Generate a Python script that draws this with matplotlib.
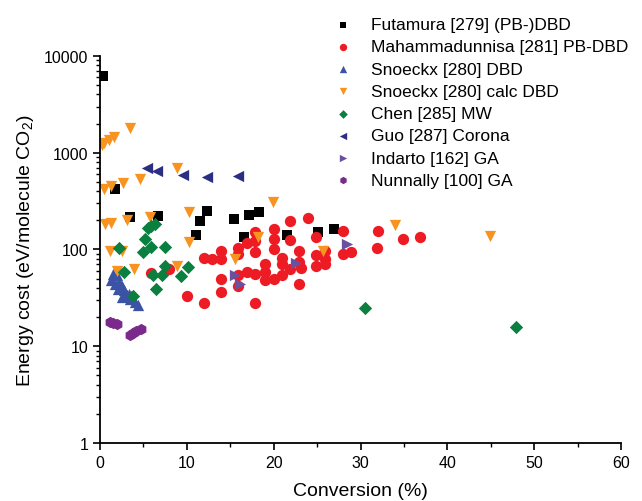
import numpy as np
import matplotlib
matplotlib.use('Agg')
import matplotlib.pyplot as plt
from matplotlib.ticker import LogLocator, NullFormatter, MultipleLocator

plt.rcParams['font.family'] = ['Liberation Sans', 'DejaVu Sans']
plt.rcParams['mathtext.default'] = 'regular'

# conversion (%) and energy cost (eV/molecule CO2)
futamura_x = [0.35, 1.7, 3.4, 6.7, 11.5, 12.3, 11.0, 15.4, 17.1, 18.3, 16.6, 21.5, 25.1, 26.9]
futamura_y = [6200, 420, 217, 222, 198, 251, 142, 207, 228, 245, 135, 142, 152, 163]

mahamm_x = [12.0, 12.9, 13.9, 13.9, 15.9, 15.9, 16.9, 17.9, 17.9, 17.9, 20.0, 20.0, 20.0,
            21.9, 21.9, 23.9, 22.9, 22.9, 22.9, 24.9, 24.9, 24.9, 21.0, 21.0, 21.0, 20.0,
            19.0, 19.0, 19.0, 17.9, 16.9, 15.9, 15.9, 13.9, 13.9, 12.0, 17.9, 21.9,
            5.9, 8.0, 10.0, 28.0, 32.0, 34.9, 36.9, 31.9, 28.0, 28.9, 25.9, 25.9, 25.9, 23.1]
mahamm_y = [81, 79, 97, 79, 103, 90, 117, 151, 121, 94, 163, 127, 101,
            199, 124, 211, 97, 74, 44, 134, 88, 68, 81, 71, 54, 50,
            71, 58, 48, 56, 58, 55, 42, 49, 36, 28, 28, 63,
            57, 63, 33, 157, 157, 127, 136, 104, 90, 94, 80, 96, 70, 64]

snoeckx_x = [1.5, 1.9, 1.3, 1.7, 2.2, 2.5, 2.1, 2.8, 3.1, 2.5, 3.4, 4.0, 4.4, 3.3, 3.6]
snoeckx_y = [56, 54, 48, 44, 46, 42, 39, 38, 34, 32, 31, 28.5, 27, 35, 33]

calc_x = [0.2, 0.5, 1.0, 1.6, 3.4, 0.5, 1.3, 2.6, 4.6, 8.9, 0.6, 1.3, 3.1, 5.7, 10.3,
          19.9, 10.3, 1.15, 2.5, 2.0, 3.9, 8.9, 15.5, 18.2, 25.7, 34.0, 44.9]
calc_y = [1190, 1265, 1340, 1450, 1800, 423, 458, 489, 537, 694, 184, 188, 204, 216, 243,
          308, 119, 97, 97, 60, 63, 68, 80, 134, 97, 180, 137]

chen_x = [5.5, 5.9, 6.3, 5.2, 5.9, 4.9, 7.5, 2.2, 2.8, 3.8, 6.1, 6.4, 7.1, 7.5, 9.3, 10.1, 30.5, 47.9]
chen_y = [165, 175, 185, 129, 107, 94, 107, 104, 58, 33, 54, 39, 54, 68, 53, 66, 25, 16]

guo_x = [5.4, 6.6, 9.6, 12.3, 15.9]
guo_y = [694, 640, 590, 559, 573]

indarto_x = [15.5, 16.1, 22.6, 28.4]
indarto_y = [55, 44, 73, 114]

nunnally_x = [1.2, 1.5, 1.9, 3.4, 3.8, 4.2, 4.7]
nunnally_y = [18, 17.5, 17, 13, 13.7, 14.3, 15]

fig = plt.figure(figsize=(6.42, 5.02), dpi=100)
ax = fig.add_axes([0.1558, 0.1155, 0.8115, 0.771])

ax.scatter(futamura_x, futamura_y, marker='s', s=56, c='black', linewidths=0, label='Futamura [279] (PB-)DBD')
ax.scatter(mahamm_x, mahamm_y, marker='o', s=66, c='#ED1C24', linewidths=0, label='Mahammadunnisa [281] PB-DBD')
ax.scatter(snoeckx_x, snoeckx_y, marker='^', s=66, c='#3A53A4', linewidths=0, label='Snoeckx [280] DBD')
ax.scatter(calc_x, calc_y, marker='v', s=66, c='#F7931E', linewidths=0, label='Snoeckx [280] calc DBD')
ax.scatter(chen_x, chen_y, marker='D', s=46, c='#0A7F3F', linewidths=0, label='Chen [285] MW')
ax.scatter(guo_x, guo_y, marker='<', s=66, c='#2B2E83', linewidths=0, label='Guo [287] Corona')
ax.scatter(indarto_x, indarto_y, marker='>', s=66, c='#6B4FA0', linewidths=0, label='Indarto [162] GA')
ax.scatter(nunnally_x, nunnally_y, marker='h', s=66, c='#7A2A8A', linewidths=0, label='Nunnally [100] GA')

ax.set_yscale('log')
ax.set_xlim(0, 60)
ax.set_ylim(1, 10000)
ax.xaxis.set_major_locator(MultipleLocator(10))
ax.xaxis.set_minor_locator(MultipleLocator(5))
ax.yaxis.set_minor_locator(LogLocator(base=10, subs=np.arange(2, 10), numticks=10))
ax.yaxis.set_minor_formatter(NullFormatter())
ax.set_yticks([1, 10, 100, 1000, 10000])
ax.set_yticklabels(['1', '10', '100', '1000', '10000'])

for s in ['top', 'right']:
    ax.spines[s].set_visible(False)
for s in ['left', 'bottom']:
    ax.spines[s].set_linewidth(1.3)
ax.tick_params(which='major', direction='out', length=5, width=1.2, labelsize=11.5)
ax.tick_params(which='minor', direction='out', length=3, width=1.0)

ax.set_xlabel('Conversion (%)', fontsize=14, labelpad=9)
ax.set_ylabel('Energy cost (eV/molecule CO$_2$)', fontsize=14, labelpad=6)

leg = ax.legend(loc='upper left', bbox_to_anchor=(0.5095, 0.978), bbox_transform=fig.transFigure,
                frameon=False, fontsize=12.5, markerscale=0.65, handlelength=1.0,
                handletextpad=1.1, labelspacing=0.41, scatterpoints=1, borderaxespad=0)

fig.savefig('out.png', dpi=100)
